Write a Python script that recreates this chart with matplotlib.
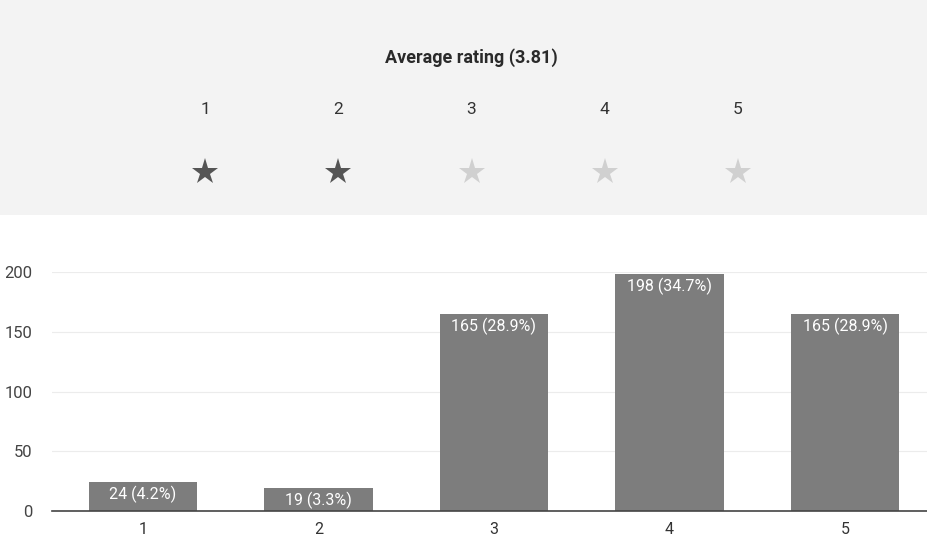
import matplotlib
matplotlib.use("Agg")
import matplotlib.pyplot as plt

plt.rcParams['font.family'] = ['Roboto', 'DejaVu Sans']

ratings = [1, 2, 3, 4, 5]
counts = [24, 19, 165, 198, 165]
percents = [4.2, 3.3, 28.9, 34.7, 28.9]
average = 3.81
star_filled = [True, True, False, False, False]
yticks = [0, 50, 100, 150, 200]

W, H = 927, 539
fig = plt.figure(figsize=(W / 100, H / 100), dpi=100)
fig.patch.set_facecolor('white')

# Top panel: average rating with stars
top = fig.add_axes([0, 1 - 215 / H, 1, 215 / H])
top.set_facecolor('#f3f3f3')
sp = 133.25
a = 1 - 205 / sp
top.set_xlim(a, a + W / sp)
top.set_ylim(215, 0)
for s in top.spines.values():
    s.set_visible(False)
top.set_xticks([])
top.set_yticks([])
top.text(3, 58, f"Average rating ({average})", ha='center', va='center',
         fontsize=13, fontweight='bold', color='#2a2a2a')
for r, f in zip(ratings, star_filled):
    top.text(r, 110, str(r), ha='center', va='center', fontsize=12.5, color='#333333')
    top.plot([r], [172], marker='*', markersize=20, linestyle='none',
             color='#555555' if f else '#d0d0d0', markeredgewidth=0)

# Bar chart
ax = fig.add_axes([52 / W, (H - 511) / H, 1 - 52 / W, (511 - 272) / H])
ax.set_xlim(-0.518, 4.467)
ax.set_ylim(0, 200)
x = list(range(len(ratings)))
bars = ax.bar(x, counts, width=0.62, color='#7d7d7d', zorder=2)
for xi, c, p in zip(x, counts, percents):
    ax.text(xi, c - 3, f"{c} ({p}%)", ha='center', va='top', fontsize=11.5,
            color='white', zorder=3)
ax.set_xticks(x)
ax.set_xticklabels([str(r) for r in ratings], fontsize=11.5, color='#333333')
ax.set_yticks(yticks)
ax.set_yticklabels([str(t) for t in yticks], fontsize=12, color='#444444')
ax.tick_params(axis='both', length=0)
ax.tick_params(axis='y', pad=14)
ax.tick_params(axis='x', pad=8)
ax.grid(axis='y', color='#ececec', linewidth=0.8, zorder=0)
for side in ['top', 'right', 'left']:
    ax.spines[side].set_visible(False)
ax.spines['bottom'].set_color('#444444')
ax.spines['bottom'].set_linewidth(1.2)
ax.spines['bottom'].set_zorder(4)

fig.savefig('out.png', dpi=100)
